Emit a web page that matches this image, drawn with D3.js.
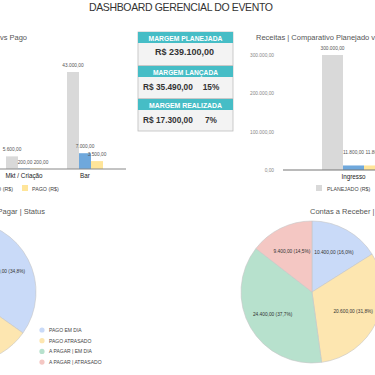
<!DOCTYPE html>
<html><head><meta charset="utf-8">
<script src="https://cdn.jsdelivr.net/npm/d3@7"></script>
<style>html,body{margin:0;padding:0;background:#fff;overflow:hidden}svg{display:block;font-family:"Liberation Sans",Arial,sans-serif}</style>
</head><body><svg id="c" width="375" height="375"></svg>
<script>
// ---- data ----
const despCategorias = ["Mkt / Criação", "Bar"];
const despPlanejado = [5600, 43000];
const despLancado = [200, 7000];
const despPago = [200, 3500];
const despSeries = ["PLANEJADO (R$)", "LANÇADO (R$)", "PAGO (R$)"];

const recCategorias = ["Ingresso"];
const recPlanejado = [300000];
const recLancado = [11800];
const recRecebido = [11800];
const recTicks = [0, 100000, 200000, 300000];

const margemTitulos = ["MARGEM PLANEJADA", "MARGEM LANÇADA", "MARGEM REALIZADA"];
const margemValores = ["R$ 239.100,00", "R$ 35.490,00", "R$ 17.300,00"];
const margemPct = ["", "15%", "7%"];

const pagarStatus = ["PAGO EM DIA", "PAGO ATRASADO", "A PAGAR | EM DIA", "A PAGAR | ATRASADO"];
const pagarValores = [15660, 12000, 12840, 4500];
const receberStatus = ["RECEBIDO EM DIA", "RECEBIDO ATRASADO", "A RECEBER | EM DIA", "A RECEBER | ATRASADO"];
const receberValores = [10400, 20600, 24400, 9400];

const colSeries = ["#d9d9d9", "#6fa8dc", "#ffe599"];
const colPie = ["#c9daf8", "#fde6b0", "#b7e1cd", "#f4c7c3"];

const fmt = v => {
  const s = d3.format(",.2f")(v);
  return s.replace(/,/g, "#").replace(/\./g, ",").replace(/#/g, ".");
};
const pct = p => (p * 100).toFixed(1).replace(".", ",") + "%";

const svg = d3.select("#c");

// title
svg.append("text").attr("x", 181).attr("y", 11).attr("text-anchor", "middle")
  .attr("font-size", 10.5).attr("fill", "#333").attr("textLength", 184)
  .text("DASHBOARD GERENCIAL DO EVENTO");

// ---- left bar chart ----
{
  const g = svg.append("g");
  const base = 169;
  const x0 = d3.scaleBand().domain(despCategorias).range([-6.5, 115.5]).padding(0);
  const x1 = d3.scaleBand().domain(despSeries).range([0, 36]);
  const y = d3.scaleLinear().domain([0, 43000]).range([base, 72]);
  const rows = despCategorias.map((c, i) => ({c, vals: [despPlanejado[i], despLancado[i], despPago[i]]}));
  g.append("text").attr("x", 27).attr("y", 40).attr("text-anchor", "end")
    .attr("font-size", 7.5).attr("fill", "#555").text("Despesas | Comparativo Lançado vs Pago");
  rows.forEach(r => {
    const gx = x0(r.c) + x0.bandwidth() / 2 - 18;
    r.vals.forEach((v, j) => {
      const bx = gx + x1(despSeries[j]);
      g.append("rect").attr("x", bx).attr("y", y(v)).attr("width", x1.bandwidth())
        .attr("height", base - y(v)).attr("fill", colSeries[j]);
      g.append("text").attr("x", bx + x1.bandwidth() / 2 + (v < 1000 ? (j === 1 ? 1 : 5) : 0))
        .attr("y", y(v) - 5).attr("text-anchor", "middle")
        .attr("font-size", 4.8).attr("fill", "#555").text(fmt(v));
    });
    g.append("text").attr("x", x0(r.c) + x0.bandwidth() / 2).attr("y", 178)
      .attr("text-anchor", "middle").attr("font-size", 6.3).attr("fill", "#222").text(r.c);
  });
  g.append("line").attr("x1", 0).attr("x2", 126).attr("y1", base).attr("y2", base)
    .attr("stroke", "#888").attr("stroke-width", 1);
  // legend
  g.append("rect").attr("x", -12).attr("y", 185).attr("width", 6).attr("height", 6).attr("fill", colSeries[1]);
  g.append("text").attr("x", 13).attr("y", 190.5).attr("text-anchor", "end").attr("font-size", 5.3).attr("fill", "#444").text(despSeries[1]);
  g.append("rect").attr("x", 22).attr("y", 185).attr("width", 6).attr("height", 6).attr("fill", colSeries[2]);
  g.append("text").attr("x", 32).attr("y", 190.5).attr("font-size", 5.3).attr("fill", "#444").text(despSeries[2]);
}

// ---- center box ----
{
  const g = svg.append("g");
  const bx = 138, bw = 95;
  const rowsY = [32, 66, 99];
  const hdrLen = [74, 65, 73];
  g.append("rect").attr("x", bx).attr("y", 32).attr("width", bw).attr("height", 99)
    .attr("fill", "#f3f3f3").attr("stroke", "#bdbdbd").attr("stroke-width", 0.8);
  margemTitulos.forEach((t, i) => {
    const y0 = rowsY[i];
    g.append("rect").attr("x", bx).attr("y", y0).attr("width", bw).attr("height", 11).attr("fill", "#46bdc6");
    g.append("text").attr("x", bx + bw / 2).attr("y", y0 + 8.5).attr("text-anchor", "middle")
      .attr("font-size", 8).attr("font-weight", "bold").attr("fill", "#fff")
      .attr("textLength", hdrLen[i]).attr("lengthAdjust", "spacingAndGlyphs").text(t);
    const vy = y0 + 11 + 13;
    if (margemPct[i] === "") {
      g.append("text").attr("x", bx + bw / 2 - 1).attr("y", vy - 1).attr("text-anchor", "middle")
        .attr("font-size", 9).attr("font-weight", "bold").attr("fill", "#333").text(margemValores[i]);
    } else {
      g.append("text").attr("x", 143).attr("y", vy).attr("font-size", 8.3).attr("font-weight", "bold")
        .attr("fill", "#333").text(margemValores[i]);
      g.append("text").attr("x", 211).attr("y", vy).attr("text-anchor", "middle").attr("font-size", 8.3)
        .attr("font-weight", "bold").attr("fill", "#333").text(margemPct[i]);
    }
    if (i > 0) g.append("line").attr("x1", bx).attr("x2", bx + bw).attr("y1", y0 - 0.5).attr("y2", y0 - 0.5).attr("stroke", "#bdbdbd").attr("stroke-width", 0.8);
  });
}

// ---- right bar chart ----
{
  const g = svg.append("g");
  const base = 170;
  const y = d3.scaleLinear().domain([0, 300000]).range([base, 55]);
  const x0 = d3.scaleBand().domain(recCategorias).range([322, 385]);
  const sers = ["PLANEJADO (R$)", "LANÇADO (R$)", "RECEBIDO (R$)"];
  const x1 = d3.scaleBand().domain(sers).range([0, x0.bandwidth()]);
  g.append("text").attr("x", 256).attr("y", 40).attr("font-size", 7.5).attr("fill", "#555")
    .text("Receitas | Comparativo Planejado vs Recebido");
  const ax = d3.axisLeft(y).tickValues(recTicks).tickSize(0).tickFormat(fmt);
  const ag = g.append("g").attr("transform", "translate(277,0)").call(ax);
  ag.select(".domain").remove();
  ag.selectAll("text").attr("font-size", 4.8).attr("fill", "#888").attr("font-family", "'Liberation Sans',Arial,sans-serif").attr("dx", 0);
  recCategorias.forEach((c, i) => {
    const vals = [recPlanejado[i], recLancado[i], recRecebido[i]];
    vals.forEach((v, j) => {
      const bx = x0(c) + x1(sers[j]);
      g.append("rect").attr("x", bx).attr("y", y(v)).attr("width", x1.bandwidth())
        .attr("height", base - y(v)).attr("fill", colSeries[j]);
      g.append("text").attr("x", bx + x1.bandwidth() / 2).attr("y", y(v) - 5 - (j > 0 ? 6 : 0))
        .attr("text-anchor", j === 2 ? "start" : "middle").attr("dx", j === 2 ? -9 : 0)
        .attr("font-size", 4.8).attr("fill", "#555").text(fmt(v));
    });
    g.append("text").attr("x", x0(c) + x0.bandwidth() / 2).attr("y", 179).attr("text-anchor", "middle")
      .attr("font-size", 6.3).attr("fill", "#222").text(c);
  });
  g.append("line").attr("x1", 283).attr("x2", 375).attr("y1", base).attr("y2", base)
    .attr("stroke", "#777").attr("stroke-width", 1.1);
  g.append("rect").attr("x", 316).attr("y", 185).attr("width", 6).attr("height", 6).attr("fill", colSeries[0]);
  g.append("text").attr("x", 327).attr("y", 190.5).attr("font-size", 5.3).attr("fill", "#444").text(sers[0]);
}

// ---- pies ----
function drawPie(cx, cy, values, title, titleX, titleAnchor) {
  const g = svg.append("g");
  g.append("text").attr("x", titleX).attr("y", 214).attr("text-anchor", titleAnchor)
    .attr("font-size", 7.5).attr("fill", "#555").text(title);
  const R = 71;
  const total = d3.sum(values);
  const arcs = d3.pie().sort(null)(values);
  const arc = d3.arc().innerRadius(0).outerRadius(R);
  const lab = d3.arc().innerRadius(R * 0.64).outerRadius(R * 0.64);
  const pg = g.append("g").attr("transform", `translate(${cx},${cy})`);
  pg.selectAll("path").data(arcs).join("path").attr("d", arc)
    .attr("fill", (d, i) => colPie[i]).attr("stroke", "#c6c6c6").attr("stroke-width", 0.6);
  pg.selectAll("text").data(arcs).join("text")
    .attr("transform", d => `translate(${lab.centroid(d)})`).attr("dy", "0.35em")
    .attr("text-anchor", "middle").attr("font-size", 4.8).attr("fill", "#333")
    .text(d => `${fmt(d.value)} (${pct(d.value / total)})`);
}
drawPie(-35, 292, pagarValores, "Contas a Pagar | Status", 45, "end");
drawPie(312, 292, receberValores, "Contas a Receber | Status", 310, "start");

// left pie legend
{
  const g = svg.append("g");
  pagarStatus.forEach((s, i) => {
    const yy = 330 + i * 10.7;
    g.append("circle").attr("cx", 42).attr("cy", yy).attr("r", 2.6).attr("fill", colPie[i]);
    g.append("text").attr("x", 49).attr("y", yy + 1.8).attr("font-size", 5).attr("fill", "#444").text(s);
  });
}
</script></body></html>
